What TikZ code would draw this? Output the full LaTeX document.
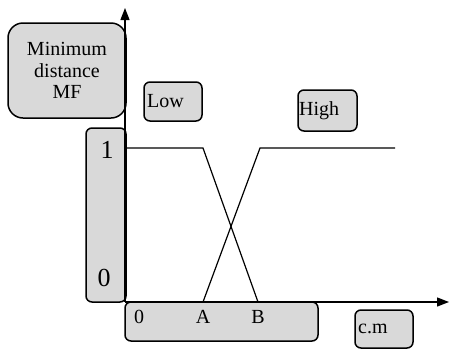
\documentclass[tikz,border=0pt]{standalone}
\usepackage{fontspec}
\setmainfont{Liberation Serif}
\usetikzlibrary{arrows.meta}
\definecolor{boxgray}{HTML}{D9D9D9}
\begin{document}
\begin{tikzpicture}[x=1pt,y=-1pt,
  gbox/.style={draw=black, line width=1.5pt, fill=boxgray, rounded corners=6pt, inner sep=0pt, outer sep=0pt},
  lbl/.style={inner sep=0pt, font=\fontsize{20}{22}\selectfont},
  big/.style={inner sep=0pt, font=\fontsize{26}{28}\selectfont},
  mfline/.style={line width=1.2pt},
  axis/.style={line width=1.3pt, -{Triangle[length=12pt,width=9pt]}}]
\useasboundingbox (0,0) rectangle (451,349);
% boxes
\node[gbox, rounded corners=15pt, minimum width=118pt, minimum height=95pt, align=center,
  font=\fontsize{20}{21.5}\selectfont] (mf) at (67,70.5) {Minimum\\distance\\MF};
\node[gbox, minimum width=58pt, minimum height=39pt] (low) at (173,101.5) {};
\node[lbl, anchor=west] (lowt) at (147,101) {Low};
\node[gbox, minimum width=59pt, minimum height=41pt] (high) at (327.5,110.5) {};
\node[lbl, anchor=west] (hight) at (299,111) {High};
\node[gbox, minimum width=40pt, minimum height=174pt] (ybox) at (106,215) {};
\node[big] (one) at (107,150) {1};
\node[big] (zero) at (104,278) {0};
\node[gbox, minimum width=193pt, minimum height=39pt] (xbox) at (221.5,321.5) {};
\node[lbl] (x0) at (139,317) {0};
\node[lbl] (xa) at (203,317) {A};
\node[lbl] (xb) at (258,317) {B};
\node[gbox, minimum width=58pt, minimum height=38pt] (cm) at (384,329) {};
\node[lbl, anchor=west] (cmt) at (358,329) {c.m};
% axes
\coordinate (o) at (125,302);
\coordinate (ytip) at (125,8);
\coordinate (xtip) at (449,302);
\draw[axis] (o) -- (ytip);
\draw[axis] (o) -- (xtip);
% membership functions
\coordinate (l1) at (126,148);
\coordinate (l2) at (203,148);
\coordinate (l3) at (258,302);
\coordinate (h1) at (203,302);
\coordinate (h2) at (260,148);
\coordinate (h3) at (395,148);
\draw[mfline] (l1) -- (l2) -- (l3);
\draw[mfline] (h1) -- (h2) -- (h3);
\end{tikzpicture}
\end{document}
